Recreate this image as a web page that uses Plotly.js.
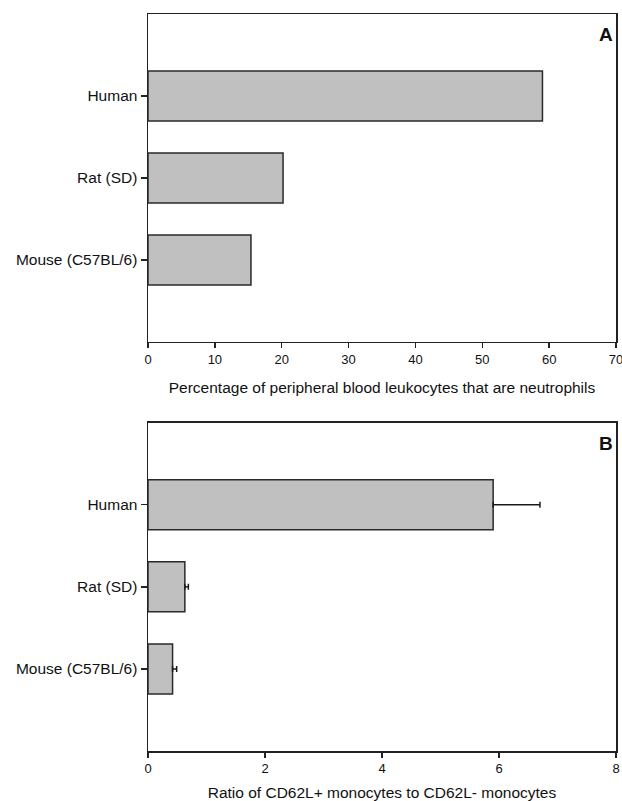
<!DOCTYPE html>
<html>
<head>
<meta charset="utf-8">
<script src="https://cdn.plot.ly/plotly-3.0.1.min.js"></script>
<style>html,body{margin:0;padding:0;background:#fff;}#chart{width:622px;height:801px;}</style>
</head>
<body>
<div id="chart"></div>
<script>
const species = ['Human', 'Rat (SD)', 'Mouse (C57BL/6)'];
const categoryOrder = ['Mouse (C57BL/6)', 'Rat (SD)', 'Human'];
const neutrophilPct = [59.0, 20.2, 15.4];
const cd62Ratio = [5.9, 0.63, 0.42];
const cd62RatioErr = [0.8, 0.06, 0.07];
const xTicksA = [0, 10, 20, 30, 40, 50, 60, 70];
const xTicksB = [0, 2, 4, 6, 8];

const barStyle = {color: '#c0c0c0', line: {color: '#2a2a2a', width: 1.5}};
const traces = [
  {type: 'bar', orientation: 'h', x: neutrophilPct, y: species, xaxis: 'x', yaxis: 'y',
   marker: barStyle, width: 0.61, hoverinfo: 'x+y'},
  {type: 'bar', orientation: 'h', x: cd62Ratio, y: species, xaxis: 'x2', yaxis: 'y2',
   marker: barStyle, width: 0.61,
   error_x: {type: 'data', array: cd62RatioErr, symmetric: false, arrayminus: [0,0,0], color: '#1a1a1a', thickness: 1.5, width: 3},
   hoverinfo: 'x+y'}
];
const font = {family: 'Liberation Sans, Arial, sans-serif', size: 14, color: '#111'};
const xCommon = {showgrid: false, zeroline: false, showline: true, mirror: true, linecolor: '#222', linewidth: 1.5,
  ticks: 'outside', ticklen: 5, tickwidth: 1.5, tickcolor: '#222', ticklabeloverflow: 'allow',
  tickfont: {size: 13, color: '#111'}, fixedrange: true};
const yCommon = {type: 'category', categoryorder: 'array', categoryarray: categoryOrder, range: [-1, 3],
  showgrid: false, zeroline: false, showline: true, mirror: true, linecolor: '#222', linewidth: 1.5,
  ticks: 'outside', ticklen: 6, tickwidth: 1.5, tickcolor: '#222', tickfont: {size: 15.5, color: '#111'}, fixedrange: true};
const layout = {
  width: 622, height: 801,
  margin: {l: 148, r: 6, t: 14, b: 50},
  paper_bgcolor: '#fff', plot_bgcolor: '#fff',
  font: font, showlegend: false,
  xaxis: Object.assign({}, xCommon, {anchor: 'y', range: [0, 70], tickvals: xTicksA, ticktext: xTicksA.map(String),
    title: {text: 'Percentage of peripheral blood leukocytes that are neutrophils', font: {size: 15.5, color: '#111'}, standoff: 16}}),
  yaxis: Object.assign({}, yCommon, {anchor: 'x', domain: [0.555, 1]}),
  xaxis2: Object.assign({}, xCommon, {anchor: 'y2', range: [0, 8], tickvals: xTicksB, ticktext: xTicksB.map(String),
    title: {text: 'Ratio of CD62L+ monocytes to CD62L- monocytes', font: {size: 15.5, color: '#111'}, standoff: 14}}),
  yaxis2: Object.assign({}, yCommon, {anchor: 'x2', domain: [0, 0.4455]}),
  annotations: [
    {text: '<b>A</b>', xref: 'x domain', yref: 'y domain', x: 0.997, y: 0.975, xanchor: 'right', yanchor: 'top', showarrow: false, font: {size: 19, color: '#111'}},
    {text: '<b>B</b>', xref: 'x2 domain', yref: 'y2 domain', x: 0.997, y: 0.975, xanchor: 'right', yanchor: 'top', showarrow: false, font: {size: 19, color: '#111'}}
  ]
};
Plotly.newPlot('chart', traces, layout, {displayModeBar: false, staticPlot: true});
</script>
</body>
</html>
